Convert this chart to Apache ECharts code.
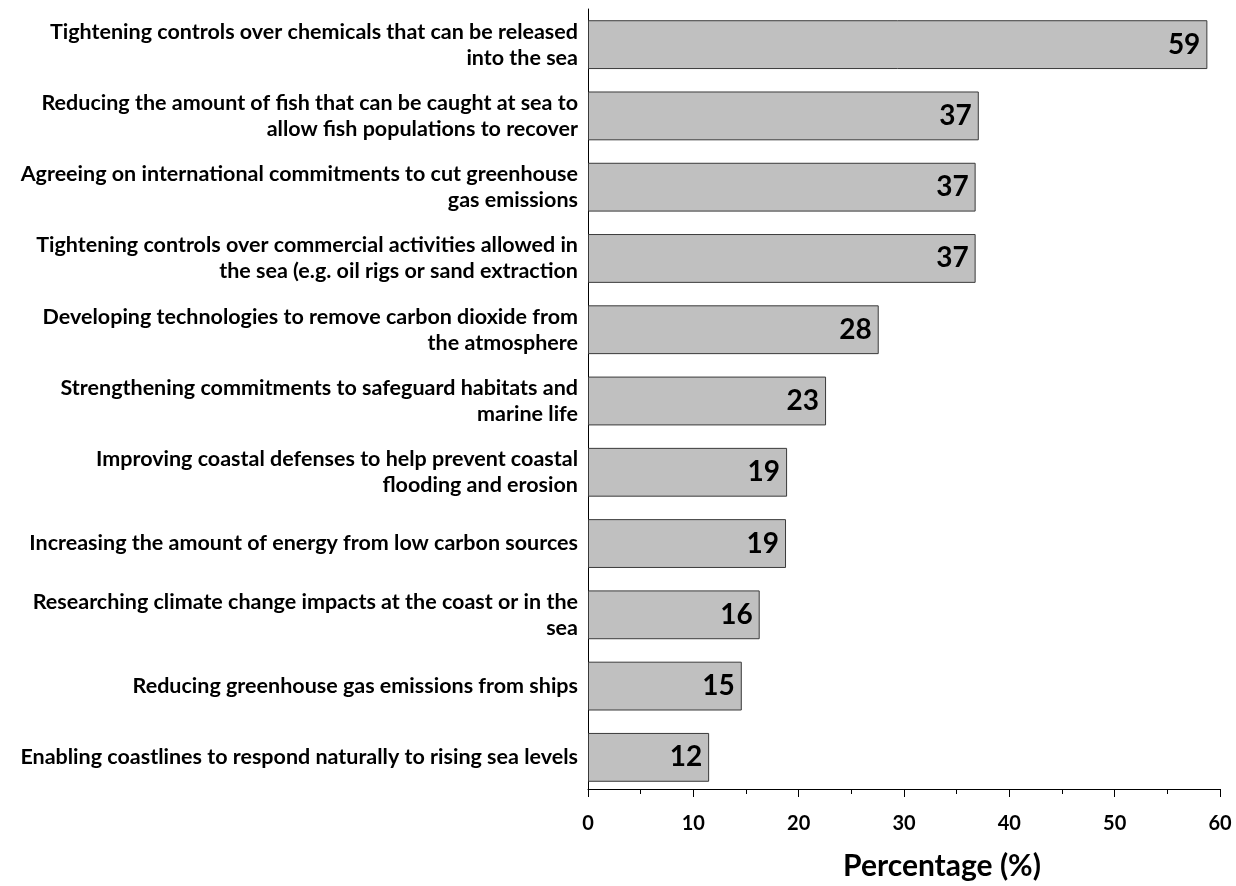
<!DOCTYPE html>
<html>
<head>
<meta charset="utf-8">
<script src="https://cdn.jsdelivr.net/npm/echarts@6/dist/echarts.min.js"></script>
<style>
html,body{margin:0;padding:0;background:#fff;overflow:hidden;}
#chart{width:1236px;height:886px;}
</style>
</head>
<body>
<div id="chart"></div>
<script>
var categories = [
  "Tightening controls over chemicals that can be released\ninto the sea",
  "Reducing the amount of fish that can be caught at sea to\nallow fish populations to recover",
  "Agreeing on international commitments to cut greenhouse\ngas emissions",
  "Tightening controls over commercial activities allowed in\nthe sea (e.g. oil rigs or sand extraction",
  "Developing technologies to remove carbon dioxide from\nthe atmosphere",
  "Strengthening commitments to safeguard habitats and\nmarine life",
  "Improving coastal defenses to help prevent coastal\nflooding and erosion",
  "Increasing the amount of energy from low carbon sources",
  "Researching climate change impacts at the coast or in the\nsea",
  "Reducing greenhouse gas emissions from ships",
  "Enabling coastlines to respond naturally to rising sea levels"
];
var values = [58.8, 37.1, 36.8, 36.8, 27.6, 22.6, 18.9, 18.8, 16.3, 14.6, 11.5];
var xTicks = [0, 10, 20, 30, 40, 50, 60];
var axisTitle = "Percentage (%)";

var FONT = "Lato";
var chart = echarts.init(document.getElementById('chart'), null, {renderer: 'canvas', width: 1236, height: 886});
chart.setOption({
  animation: false,
  backgroundColor: '#fff',
  grid: {left: 588, width: 632, top: 9, height: 790, containLabel: false},
  xAxis: {
    type: 'value',
    offset: -4,
    min: xTicks[0],
    max: xTicks[xTicks.length - 1],
    interval: xTicks[1] - xTicks[0],
    name: axisTitle,
    nameLocation: 'middle',
    nameGap: 62,
    nameTextStyle: {fontFamily: FONT, fontWeight: 'bold', fontSize: 30, color: '#000', padding: [0, 0, 0, 76]},
    axisLine: {show: true, lineStyle: {color: '#000', width: 1}},
    axisTick: {show: true, length: 8, lineStyle: {color: '#000'}},
    minorTick: {show: true, splitNumber: 2, length: 5, lineStyle: {color: '#000'}},
    splitLine: {show: false},
    axisLabel: {fontFamily: FONT, fontWeight: 'bold', fontSize: 20, color: '#000', margin: 25}
  },
  yAxis: {
    type: 'category',
    data: categories,
    inverse: true,
    axisLine: {show: true, lineStyle: {color: '#000', width: 1}},
    axisTick: {show: false},
    splitLine: {show: false},
    axisLabel: {fontFamily: FONT, fontWeight: 'bold', fontSize: 21.5, color: '#000', margin: 10, lineHeight: 26, align: 'right'}
  },
  series: [{
    type: 'bar',
    data: values,
    barCategoryGap: '31.5%',
    itemStyle: {color: '#c0c0c0', borderColor: '#3a3a3a', borderWidth: 1},
    label: {
      show: true,
      position: 'insideRight',
      distance: 7,
      formatter: function (p) { return String(Math.round(p.value)); },
      fontFamily: FONT, fontWeight: 'bold', fontSize: 28, color: '#000'
    }
  }]
});
</script>
</body>
</html>
